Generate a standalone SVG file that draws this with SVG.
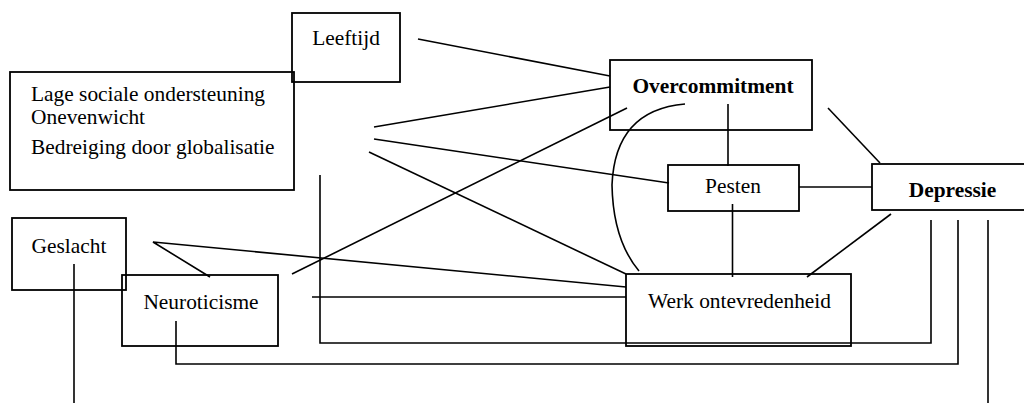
<svg xmlns="http://www.w3.org/2000/svg" width="1024" height="403" viewBox="0 0 1024 403">
<style>
.box{fill:none;stroke:#000;stroke-width:1.8}
.t{font-family:"Liberation Serif","Times New Roman",serif;font-size:21.4px;fill:#000}
.b{font-weight:bold}
.c{fill:none;stroke:#000;stroke-width:1.6}
</style>
<rect width="1024" height="403" fill="#fff"/>
<g id="connectors">
<line class="c" x1="418" y1="39" x2="610" y2="76"/>
<line class="c" x1="374" y1="127" x2="610" y2="87"/>
<line class="c" x1="374" y1="139" x2="669" y2="183"/>
<line class="c" x1="369" y1="152" x2="626" y2="274"/>
<line class="c" x1="292" y1="274" x2="627" y2="108"/>
<polyline class="c" points="210,277 153,242 626,287"/>
<line class="c" x1="312" y1="297" x2="626" y2="297"/>
<polyline class="c" points="320,175 320,343 931,343 931,220"/>
<polyline class="c" points="176,321 176,364 958,364 958,220"/>
<line class="c" x1="74" y1="264" x2="74" y2="403"/>
<line class="c" x1="988" y1="220" x2="988" y2="403"/>
<line class="c" x1="728" y1="104" x2="728" y2="166"/>
<line class="c" x1="732.5" y1="204" x2="732.5" y2="277"/>
<line class="c" x1="799" y1="187" x2="872" y2="187"/>
<line class="c" x1="828" y1="108" x2="880" y2="163"/>
<line class="c" x1="891" y1="214" x2="807" y2="277"/>
<path class="c" d="M685,104 Q615,110 612,185 Q613,240 639,271"/>
</g>
<g id="node-lage">
<rect class="box" x="10" y="72" width="284" height="118"/>
<text class="t" x="31" y="101">Lage sociale ondersteuning</text>
<text class="t" x="31" y="124">Onevenwicht</text>
<text class="t" x="31" y="154">Bedreiging door globalisatie</text>
</g>
<g id="node-leeftijd">
<rect class="box" x="292" y="13" width="108" height="69"/>
<text class="t" x="346" y="45" text-anchor="middle">Leeftijd</text>
</g>
<g id="node-overcommitment">
<rect class="box" x="610" y="60" width="202" height="70"/>
<text class="t b" x="713" y="93" text-anchor="middle">Overcommitment</text>
</g>
<g id="node-pesten">
<rect class="box" x="668" y="165" width="131" height="46"/>
<text class="t" x="733" y="193" text-anchor="middle">Pesten</text>
</g>
<g id="node-depressie">
<rect class="box" x="872" y="164" width="170" height="46"/>
<text class="t b" x="952.5" y="197" text-anchor="middle">Depressie</text>
</g>
<g id="node-geslacht">
<rect class="box" x="12" y="218" width="114" height="72"/>
<text class="t" x="69" y="253" text-anchor="middle">Geslacht</text>
</g>
<g id="node-neuroticisme">
<rect class="box" x="122" y="275" width="156" height="71"/>
<text class="t" x="201" y="309" text-anchor="middle">Neuroticisme</text>
</g>
<g id="node-werk">
<rect class="box" x="626" y="274" width="225" height="72"/>
<text class="t" x="739.5" y="308" text-anchor="middle">Werk ontevredenheid</text>
</g>
</svg>
